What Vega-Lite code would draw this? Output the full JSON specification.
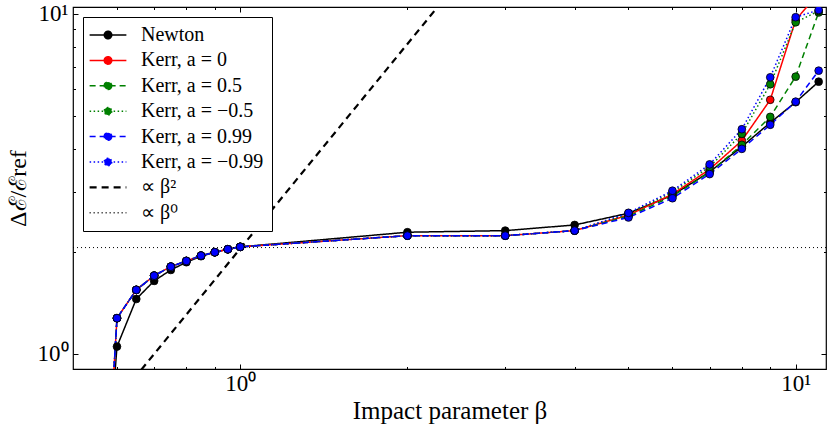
{
  "$schema": "https://vega.github.io/schema/vega-lite/v6.json",
  "width": 753,
  "height": 362,
  "autosize": {"type": "none"},
  "padding": {"left": 73, "top": 7, "right": 4, "bottom": 60},
  "config": {
    "font": "Liberation Serif",
    "view": {"stroke": "black", "strokeWidth": 1.2},
    "axis": {
      "grid": false, "domain": false, "tickColor": "black", "tickWidth": 1,
      "labelColor": "black", "titleColor": "black", "labelFontSize": 23,
      "titleFontSize": 25, "titleFontWeight": "normal", "labelFlush": false, "labelOverlap": false
    },
    "legend": {
      "orient": "top-left", "offset": 10, "strokeColor": "black", "fillColor": "white",
      "padding": 8, "rowPadding": 5.4, "symbolSize": 225, "symbolOffset": 7, "labelOffset": 23,
      "labelFontSize": 20, "labelFont": "Liberation Serif", "labelColor": "black",
      "symbolStrokeWidth": 1.5, "cornerRadius": 0
    }
  },
  "datasets": {
    "curves": [
      {"beta": 0.59, "ratio": 0.73, "series": "Newton"},
      {"beta": 0.6, "ratio": 1.051, "series": "Newton"},
      {"beta": 0.65, "ratio": 1.451, "series": "Newton"},
      {"beta": 0.7, "ratio": 1.64, "series": "Newton"},
      {"beta": 0.75, "ratio": 1.766, "series": "Newton"},
      {"beta": 0.8, "ratio": 1.861, "series": "Newton"},
      {"beta": 0.85, "ratio": 1.938, "series": "Newton"},
      {"beta": 0.9, "ratio": 1.991, "series": "Newton"},
      {"beta": 0.95, "ratio": 2.032, "series": "Newton"},
      {"beta": 1, "ratio": 2.065, "series": "Newton"},
      {"beta": 2, "ratio": 2.28, "series": "Newton"},
      {"beta": 3, "ratio": 2.305, "series": "Newton"},
      {"beta": 4, "ratio": 2.395, "series": "Newton"},
      {"beta": 5, "ratio": 2.593, "series": "Newton"},
      {"beta": 6, "ratio": 2.93, "series": "Newton"},
      {"beta": 7, "ratio": 3.43, "series": "Newton"},
      {"beta": 8, "ratio": 4.07, "series": "Newton"},
      {"beta": 9, "ratio": 4.79, "series": "Newton"},
      {"beta": 10, "ratio": 5.5, "series": "Newton"},
      {"beta": 11, "ratio": 6.32, "series": "Newton"},

      {"beta": 0.59, "ratio": 0.8, "series": "Kerr, a = 0"},
      {"beta": 0.6, "ratio": 1.274, "series": "Kerr, a = 0"},
      {"beta": 0.65, "ratio": 1.543, "series": "Kerr, a = 0"},
      {"beta": 0.7, "ratio": 1.699, "series": "Kerr, a = 0"},
      {"beta": 0.75, "ratio": 1.806, "series": "Kerr, a = 0"},
      {"beta": 0.8, "ratio": 1.877, "series": "Kerr, a = 0"},
      {"beta": 0.85, "ratio": 1.946, "series": "Kerr, a = 0"},
      {"beta": 0.9, "ratio": 1.991, "series": "Kerr, a = 0"},
      {"beta": 0.95, "ratio": 2.032, "series": "Kerr, a = 0"},
      {"beta": 1, "ratio": 2.065, "series": "Kerr, a = 0"},
      {"beta": 2, "ratio": 2.228, "series": "Kerr, a = 0"},
      {"beta": 3, "ratio": 2.228, "series": "Kerr, a = 0"},
      {"beta": 4, "ratio": 2.305, "series": "Kerr, a = 0"},
      {"beta": 5, "ratio": 2.56, "series": "Kerr, a = 0"},
      {"beta": 6, "ratio": 2.95, "series": "Kerr, a = 0"},
      {"beta": 7, "ratio": 3.49, "series": "Kerr, a = 0"},
      {"beta": 8, "ratio": 4.24, "series": "Kerr, a = 0"},
      {"beta": 9, "ratio": 5.59, "series": "Kerr, a = 0"},
      {"beta": 10, "ratio": 9.6, "series": "Kerr, a = 0"},
      {"beta": 11, "ratio": 11.5, "series": "Kerr, a = 0"},

      {"beta": 0.59, "ratio": 0.8, "series": "Kerr, a = 0.5"},
      {"beta": 0.6, "ratio": 1.274, "series": "Kerr, a = 0.5"},
      {"beta": 0.65, "ratio": 1.543, "series": "Kerr, a = 0.5"},
      {"beta": 0.7, "ratio": 1.699, "series": "Kerr, a = 0.5"},
      {"beta": 0.75, "ratio": 1.806, "series": "Kerr, a = 0.5"},
      {"beta": 0.8, "ratio": 1.877, "series": "Kerr, a = 0.5"},
      {"beta": 0.85, "ratio": 1.946, "series": "Kerr, a = 0.5"},
      {"beta": 0.9, "ratio": 1.991, "series": "Kerr, a = 0.5"},
      {"beta": 0.95, "ratio": 2.032, "series": "Kerr, a = 0.5"},
      {"beta": 1, "ratio": 2.065, "series": "Kerr, a = 0.5"},
      {"beta": 2, "ratio": 2.228, "series": "Kerr, a = 0.5"},
      {"beta": 3, "ratio": 2.228, "series": "Kerr, a = 0.5"},
      {"beta": 4, "ratio": 2.305, "series": "Kerr, a = 0.5"},
      {"beta": 5, "ratio": 2.54, "series": "Kerr, a = 0.5"},
      {"beta": 6, "ratio": 2.91, "series": "Kerr, a = 0.5"},
      {"beta": 7, "ratio": 3.42, "series": "Kerr, a = 0.5"},
      {"beta": 8, "ratio": 4.12, "series": "Kerr, a = 0.5"},
      {"beta": 9, "ratio": 4.98, "series": "Kerr, a = 0.5"},
      {"beta": 10, "ratio": 6.54, "series": "Kerr, a = 0.5"},
      {"beta": 11, "ratio": 10.1, "series": "Kerr, a = 0.5"},

      {"beta": 0.59, "ratio": 0.8, "series": "Kerr, a = −0.5"},
      {"beta": 0.6, "ratio": 1.274, "series": "Kerr, a = −0.5"},
      {"beta": 0.65, "ratio": 1.543, "series": "Kerr, a = −0.5"},
      {"beta": 0.7, "ratio": 1.699, "series": "Kerr, a = −0.5"},
      {"beta": 0.75, "ratio": 1.806, "series": "Kerr, a = −0.5"},
      {"beta": 0.8, "ratio": 1.877, "series": "Kerr, a = −0.5"},
      {"beta": 0.85, "ratio": 1.946, "series": "Kerr, a = −0.5"},
      {"beta": 0.9, "ratio": 1.991, "series": "Kerr, a = −0.5"},
      {"beta": 0.95, "ratio": 2.032, "series": "Kerr, a = −0.5"},
      {"beta": 1, "ratio": 2.065, "series": "Kerr, a = −0.5"},
      {"beta": 2, "ratio": 2.228, "series": "Kerr, a = −0.5"},
      {"beta": 3, "ratio": 2.228, "series": "Kerr, a = −0.5"},
      {"beta": 4, "ratio": 2.305, "series": "Kerr, a = −0.5"},
      {"beta": 5, "ratio": 2.58, "series": "Kerr, a = −0.5"},
      {"beta": 6, "ratio": 2.99, "series": "Kerr, a = −0.5"},
      {"beta": 7, "ratio": 3.55, "series": "Kerr, a = −0.5"},
      {"beta": 8, "ratio": 4.44, "series": "Kerr, a = −0.5"},
      {"beta": 9, "ratio": 6.21, "series": "Kerr, a = −0.5"},
      {"beta": 10, "ratio": 9.45, "series": "Kerr, a = −0.5"},
      {"beta": 11, "ratio": 10.2, "series": "Kerr, a = −0.5"},

      {"beta": 0.59, "ratio": 0.8, "series": "Kerr, a = 0.99"},
      {"beta": 0.6, "ratio": 1.274, "series": "Kerr, a = 0.99"},
      {"beta": 0.65, "ratio": 1.543, "series": "Kerr, a = 0.99"},
      {"beta": 0.7, "ratio": 1.699, "series": "Kerr, a = 0.99"},
      {"beta": 0.75, "ratio": 1.806, "series": "Kerr, a = 0.99"},
      {"beta": 0.8, "ratio": 1.877, "series": "Kerr, a = 0.99"},
      {"beta": 0.85, "ratio": 1.946, "series": "Kerr, a = 0.99"},
      {"beta": 0.9, "ratio": 1.991, "series": "Kerr, a = 0.99"},
      {"beta": 0.95, "ratio": 2.032, "series": "Kerr, a = 0.99"},
      {"beta": 1, "ratio": 2.065, "series": "Kerr, a = 0.99"},
      {"beta": 2, "ratio": 2.228, "series": "Kerr, a = 0.99"},
      {"beta": 3, "ratio": 2.228, "series": "Kerr, a = 0.99"},
      {"beta": 4, "ratio": 2.305, "series": "Kerr, a = 0.99"},
      {"beta": 5, "ratio": 2.52, "series": "Kerr, a = 0.99"},
      {"beta": 6, "ratio": 2.87, "series": "Kerr, a = 0.99"},
      {"beta": 7, "ratio": 3.38, "series": "Kerr, a = 0.99"},
      {"beta": 8, "ratio": 4.01, "series": "Kerr, a = 0.99"},
      {"beta": 9, "ratio": 4.72, "series": "Kerr, a = 0.99"},
      {"beta": 10, "ratio": 5.52, "series": "Kerr, a = 0.99"},
      {"beta": 11, "ratio": 6.81, "series": "Kerr, a = 0.99"},

      {"beta": 0.59, "ratio": 0.8, "series": "Kerr, a = −0.99"},
      {"beta": 0.6, "ratio": 1.274, "series": "Kerr, a = −0.99"},
      {"beta": 0.65, "ratio": 1.543, "series": "Kerr, a = −0.99"},
      {"beta": 0.7, "ratio": 1.699, "series": "Kerr, a = −0.99"},
      {"beta": 0.75, "ratio": 1.806, "series": "Kerr, a = −0.99"},
      {"beta": 0.8, "ratio": 1.877, "series": "Kerr, a = −0.99"},
      {"beta": 0.85, "ratio": 1.946, "series": "Kerr, a = −0.99"},
      {"beta": 0.9, "ratio": 1.991, "series": "Kerr, a = −0.99"},
      {"beta": 0.95, "ratio": 2.032, "series": "Kerr, a = −0.99"},
      {"beta": 1, "ratio": 2.065, "series": "Kerr, a = −0.99"},
      {"beta": 2, "ratio": 2.228, "series": "Kerr, a = −0.99"},
      {"beta": 3, "ratio": 2.228, "series": "Kerr, a = −0.99"},
      {"beta": 4, "ratio": 2.305, "series": "Kerr, a = −0.99"},
      {"beta": 5, "ratio": 2.6, "series": "Kerr, a = −0.99"},
      {"beta": 6, "ratio": 3.02, "series": "Kerr, a = −0.99"},
      {"beta": 7, "ratio": 3.61, "series": "Kerr, a = −0.99"},
      {"beta": 8, "ratio": 4.58, "series": "Kerr, a = −0.99"},
      {"beta": 9, "ratio": 6.51, "series": "Kerr, a = −0.99"},
      {"beta": 10, "ratio": 9.78, "series": "Kerr, a = −0.99"},
      {"beta": 11, "ratio": 10.27, "series": "Kerr, a = −0.99"}
    ],
    "beta2": [
      {"beta": 0.5, "ratio": 0.51, "series": "∝ β²"},
      {"beta": 11.34, "ratio": 262.3, "series": "∝ β²"}
    ],
    "beta0": [
      {"beta": 0.5, "ratio": 2.055, "series": "∝ β⁰"},
      {"beta": 11.34, "ratio": 2.055, "series": "∝ β⁰"}
    ]
  },
  "resolve": {"axis": {"x": "independent", "y": "independent"}},
  "layer": [
    {
      "data": {"name": "curves"},
      "mark": {"type": "line", "clip": true, "strokeWidth": 1.5},
      "encoding": {
        "x": {
          "field": "beta", "type": "quantitative",
          "scale": {"type": "log", "domain": [0.5, 11.34], "nice": false},
          "axis": {"orient": "bottom", "values": [1, 10], "tickSize": -5, "labelPadding": 8,
                   "labelExpr": "datum.value == 1 ? '10⁰' : '10¹'", "title": "Impact parameter β", "titlePadding": 3}
        },
        "y": {
          "field": "ratio", "type": "quantitative",
          "scale": {"type": "log", "domain": [0.903, 10.48], "nice": false},
          "axis": {"orient": "left", "values": [1, 10], "tickSize": -5, "labelPadding": 10,
                   "labelExpr": "datum.value == 1 ? '10⁰' : '10¹'", "title": "Δℰ/ℰref", "titlePadding": 7, "titleFontSize": 24}
        },
        "color": {
          "field": "series", "type": "nominal",
          "scale": {
            "domain": ["Newton", "Kerr, a = 0", "Kerr, a = 0.5", "Kerr, a = −0.5", "Kerr, a = 0.99", "Kerr, a = −0.99", "∝ β²", "∝ β⁰"],
            "range": ["#000000", "#ff0000", "#008000", "#008000", "#0000ff", "#0000ff", "#000000", "#000000"]
          },
          "legend": {
            "title": null,
            "encoding": {
              "symbols": {
                "shape": {"value": {"expr": "indexof(datum.value, 'β') >= 0 ? 'M-2.45,0H2.45' : 'M-2.45,0H2.45M0.5,0A0.5,0.5,0,1,1,-0.5,0A0.5,0.5,0,1,1,0.5,0Z'"}},
                "fill": {"value": {"expr": "scale('color', datum.value)"}},
                "stroke": {"value": {"expr": "scale('color', datum.value)"}},
                "strokeWidth": {"value": {"expr": "datum.value == '∝ β²' ? 2.2 : 1.5"}},
                "fillOpacity": {"value": 1}
              }
            }
          }
        },
        "strokeDash": {
          "field": "series", "type": "nominal",
          "scale": {
            "domain": ["Newton", "Kerr, a = 0", "Kerr, a = 0.5", "Kerr, a = −0.5", "Kerr, a = 0.99", "Kerr, a = −0.99", "∝ β²", "∝ β⁰"],
            "range": [[1, 0], [1, 0], [6, 4], [1.5, 2.5], [6, 4], [1.5, 2.5], [7, 5], [1, 3]]
          },
          "legend": {"title": null}
        }
      }
    },
    {
      "data": {"name": "beta2"},
      "mark": {"type": "line", "clip": true, "strokeWidth": 2.2},
      "encoding": {
        "x": {"field": "beta", "type": "quantitative",
              "axis": {"orient": "top", "values": [1, 10], "tickSize": -5, "labels": false, "title": null}},
        "y": {"field": "ratio", "type": "quantitative",
              "axis": {"orient": "right", "values": [1, 10], "tickSize": -5, "labels": false, "title": null}},
        "color": {"field": "series", "type": "nominal"},
        "strokeDash": {"field": "series", "type": "nominal"}
      }
    },
    {
      "data": {"name": "beta0"},
      "mark": {"type": "line", "clip": true, "strokeWidth": 1},
      "encoding": {
        "x": {"field": "beta", "type": "quantitative",
              "axis": {"orient": "top", "values": [0.6, 0.7, 0.8, 0.9, 2, 3, 4, 5, 6, 7, 8, 9], "tickSize": -2.5, "labels": false, "title": null}},
        "y": {"field": "ratio", "type": "quantitative",
              "axis": {"orient": "left", "values": [2, 3, 4, 5, 6, 7, 8, 9], "tickSize": -2.5, "labels": false, "title": null}},
        "color": {"field": "series", "type": "nominal"},
        "strokeDash": {"field": "series", "type": "nominal"}
      }
    },
    {
      "data": {"name": "curves"},
      "mark": {"type": "point", "filled": true, "shape": "circle", "size": 60, "stroke": "black", "strokeWidth": 0.8, "opacity": 1, "clip": true},
      "encoding": {
        "x": {"field": "beta", "type": "quantitative",
              "axis": {"orient": "bottom", "values": [0.6, 0.7, 0.8, 0.9, 2, 3, 4, 5, 6, 7, 8, 9], "tickSize": -2.5, "labels": false, "title": null}},
        "y": {"field": "ratio", "type": "quantitative",
              "axis": {"orient": "right", "values": [2, 3, 4, 5, 6, 7, 8, 9], "tickSize": -2.5, "labels": false, "title": null}},
        "color": {"field": "series", "type": "nominal"}
      }
    }
  ]
}
